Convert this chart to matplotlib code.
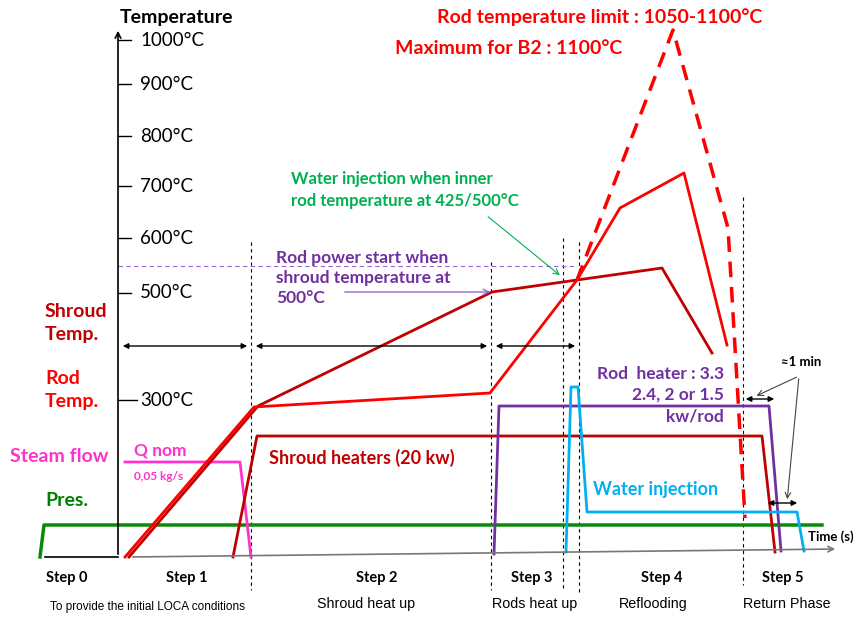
import matplotlib.pyplot as plt

plt.rcParams['font.family'] = ['Lato', 'DejaVu Sans']

# schematic coordinates: x = time position, y = vertical position (top = 0)
temp_labels = ['1000°C', '900°C', '800°C', '700°C', '600°C', '500°C', '300°C']
temp_pos = [40, 84, 136, 186, 238, 293, 400]

# temperature curves
rod_x = [125, 254, 490, 577, 620, 684, 727]
rod_y = [557, 407, 393, 280, 208, 173, 345]
shroud_x = [129, 258, 492, 577, 662, 712]
shroud_y = [557, 406, 292, 280, 268, 353]
limit_x = [577, 673, 728, 745]
limit_y = [280, 30, 228, 518]

# power / flow signals
pres_x = [40, 44, 822]
pres_y = [557, 525, 525]
steam_x = [125, 240, 251]
steam_y = [462, 462, 557]
shroud_heat_x = [233, 257, 762, 775]
shroud_heat_y = [557, 436, 436, 552]
rod_heat_x = [494, 499, 769, 781]
rod_heat_y = [554, 406, 406, 551]
water_x = [566, 571, 578, 587, 797, 804]
water_y = [552, 387, 387, 512, 512, 551]

# step boundaries
step_lines = [(251, 242, 590), (491, 262, 590), (563, 238, 590), (579, 242, 592), (743, 197, 585)]
step_names = ['Step 0', 'Step 1', 'Step 2', 'Step 3', 'Step 4', 'Step 5']
step_pos = [67, 187, 377, 532, 662, 783]
phase_names = ['Shroud heat up', 'Rods heat up', 'Reflooding', 'Return Phase']
phase_pos = [366, 535, 653, 787]

DRED = '#c00000'
RED = '#ff0000'
PURPLE = '#7030a0'
GREEN_T = '#00b050'
GREEN = '#0a8a0a'
BLUE = '#00b0f0'
MAG = '#ff33cc'

fig = plt.figure(figsize=(8.56, 6.2), dpi=100)
ax = fig.add_axes([0, 0, 1, 1])
ax.set_xlim(0, 856)
ax.set_ylim(620, 0)
ax.axis('off')

# axes
ax.annotate('', xy=(118, 28), xytext=(118, 557),
            arrowprops=dict(arrowstyle='->', color='black', lw=1.2))
ax.annotate('', xy=(838, 549), xytext=(130, 557),
            arrowprops=dict(arrowstyle='->', color='#777777', lw=1.2))
ax.plot([45, 118], [557, 557], color='black', lw=1.2)
ax.text(120, 17, 'Temperature', fontsize=14, fontweight='bold', va='center')
ax.text(808, 537, 'Time (s)', fontsize=9.5, fontweight='bold', va='center')
for lab, y in zip(temp_labels, temp_pos):
    x1 = 137 if lab == '300°C' else 131
    ax.plot([118, x1], [y, y], color='black', lw=1)
    ax.text(140, y, lab, fontsize=13.5, va='center')

# step separators
for x, y0, y1 in step_lines:
    ax.plot([x, x], [y0, y1], color='black', lw=0.8, ls=(0, (3, 3)))
ax.plot([118, 577], [266, 266], color='#9966cc', lw=0.8, ls=(0, (4, 3)))

# curves
ax.plot(pres_x, pres_y, color=GREEN, lw=2.5)
ax.plot(steam_x, steam_y, color=MAG, lw=2)
ax.plot(shroud_heat_x, shroud_heat_y, color=DRED, lw=2)
ax.plot(rod_heat_x, rod_heat_y, color=PURPLE, lw=2)
ax.plot(water_x, water_y, color=BLUE, lw=2)
ax.plot(shroud_x, shroud_y, color=DRED, lw=2)
ax.plot(rod_x, rod_y, color=RED, lw=2)
ax.plot(limit_x, limit_y, color=RED, lw=2.5, ls=(0, (4.5, 2.8)))

# duration arrows
for x0, x1 in [(120, 250), (253, 490), (493, 578)]:
    ax.annotate('', xy=(x1, 346), xytext=(x0, 346),
                arrowprops=dict(arrowstyle='<|-|>', color='black', lw=1, mutation_scale=8))
for x0, x1, y in [(743, 777, 399), (765, 800, 503)]:
    ax.annotate('', xy=(x1, y), xytext=(x0, y),
                arrowprops=dict(arrowstyle='<|-|>', color='black', lw=1, mutation_scale=8))
ax.text(801, 362, '≈1 min', fontsize=9.5, fontweight='bold', ha='center', va='center')
for tx, ty in [(754, 397), (787, 502)]:
    ax.annotate('', xy=(tx, ty), xytext=(799, 376),
                arrowprops=dict(arrowstyle='->', color='#444444', lw=0.8))

# text annotations
ax.text(600, 17, 'Rod temperature limit : 1050-1100°C', color=RED, fontsize=14,
        fontweight='bold', ha='center', va='center')
ax.text(509, 48, 'Maximum for B2 : 1100°C', color=RED, fontsize=14,
        fontweight='bold', ha='center', va='center')
ax.text(291, 190, 'Water injection when inner\nrod temperature at 425/500°C', color=GREEN_T,
        fontsize=12, fontweight='bold', va='center', linespacing=1.4)
ax.annotate('', xy=(562, 277), xytext=(486, 215),
            arrowprops=dict(arrowstyle='->', color=GREEN_T, lw=0.8))
ax.text(276, 278, 'Rod power start when\nshroud temperature at\n500°C', color=PURPLE,
        fontsize=12.5, fontweight='bold', va='center', linespacing=1.3)
ax.annotate('', xy=(493, 292), xytext=(342, 292),
            arrowprops=dict(arrowstyle='->', color='#9966cc', lw=1))
ax.text(45, 323, 'Shroud\nTemp.', color=DRED, fontsize=14, fontweight='bold',
        va='center', linespacing=1.45)
ax.text(45, 390, 'Rod\nTemp.', color=RED, fontsize=14, fontweight='bold',
        va='center', linespacing=1.45)
ax.text(10, 457, 'Steam flow', color=MAG, fontsize=14, fontweight='bold', va='center')
ax.text(45, 501, 'Pres.', color='#008000', fontsize=14, fontweight='bold', va='center')
ax.text(160, 451, 'Q nom', color=MAG, fontsize=12.5, fontweight='bold', ha='center', va='center')
ax.text(159, 477, '0,05 kg/s', color=MAG, fontsize=8.5, fontweight='bold', ha='center', va='center')
ax.text(362, 458, 'Shroud heaters (20 kw)', color=DRED, fontsize=13, fontweight='bold',
        ha='center', va='center')
ax.text(724, 395, 'Rod  heater : 3.3\n2.4, 2 or 1.5\nkw/rod', color=PURPLE, fontsize=12.5,
        fontweight='bold', ha='right', va='center', linespacing=1.4, multialignment='right')
ax.text(656, 489, 'Water injection', color=BLUE, fontsize=13, fontweight='bold',
        ha='center', va='center')

for name, x in zip(step_names, step_pos):
    ax.text(x, 578, name, fontsize=10.5, fontweight='bold', ha='center', va='center')
ax.text(148, 607, 'To provide the initial LOCA conditions', fontsize=8.5,
        family=['Liberation Sans'], ha='center', va='center')
for name, x in zip(phase_names, phase_pos):
    ax.text(x, 604, name, fontsize=10.3, family=['Liberation Sans'], ha='center', va='center')

fig.savefig('out.png', dpi=100)
